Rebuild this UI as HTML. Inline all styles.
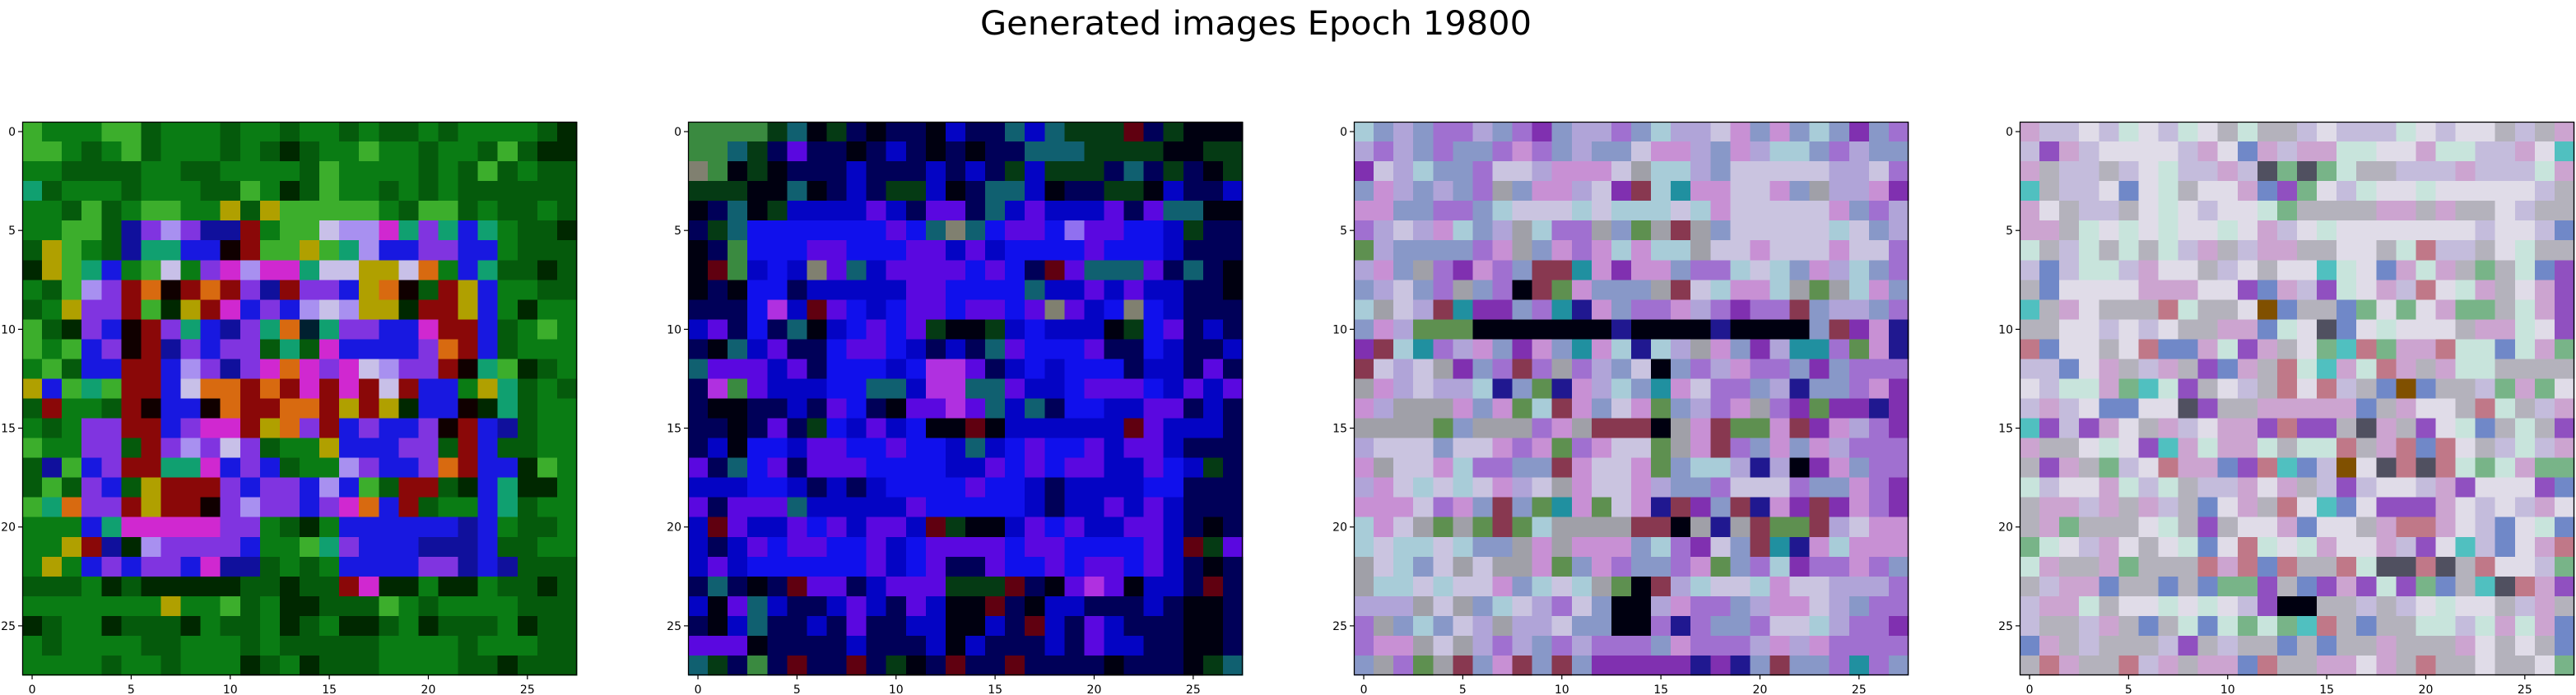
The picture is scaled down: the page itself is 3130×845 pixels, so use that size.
<!DOCTYPE html>
<html><head><meta charset="utf-8"><style>
html,body{margin:0;padding:0;background:#fff;}
svg{display:block;}
</style></head><body>
<svg id="fig" width="3130" height="845" xmlns="http://www.w3.org/2000/svg" font-family="'DejaVu Sans','Liberation Sans',sans-serif">
<rect width="3130" height="845" fill="#fff"/>
<text x="1526" y="42" font-size="40" text-anchor="middle" textLength="670" lengthAdjust="spacingAndGlyphs">Generated images Epoch 19800</text>
</svg>
<script>
const tickValues = [0,5,10,15,20,25];
const gridSize = 28;
const panelNames = ['generated-image-1','generated-image-2','generated-image-3','generated-image-4'];
const palette1 = {L:'#3cae2c',G:'#0a7c14',g:'#055a0c',k:'#002800',C:'#10a070',B:'#1818e0',P:'#8034e0',p:'#a890f0',D:'#10109c',R:'#8a0808',K:'#100000',O:'#d86a10',Y:'#b0a000',M:'#d028d0',W:'#c8c0e8',d:'#002030'};
const palette2 = {G:'#3a8a40',g:'#053a14',T:'#106070',n:'#000058',k:'#000010',b:'#0404c4',B:'#1010ec',P:'#5a08e0',p:'#9070f0',W:'#808070',M:'#b030e0',R:'#600010'};
const palette3 = {c:'#a8ccd8',b:'#8898c8',l:'#b0a4d8',w:'#cac4e0',v:'#a070d0',V:'#8030b0',m:'#c890d4',g:'#a0a0a8',G:'#5e9050',k:'#000010',n:'#201890',t:'#2090a0',r:'#883850'};
const palette4 = {w:'#e0dce8',l:'#c4bcdc',m:'#cca4d0',c:'#c8e4dc',g:'#b4b2bc',d:'#505060',k:'#000010',v:'#9050c0',b:'#7088c8',G:'#78b488',r:'#c07888',t:'#50c0c0',o:'#805000'};
const rows1 = [
"LGGGLLgGGGgGGgGGgGggGgGGGGgk","LLGgGLgGGGgGgkgGGLGGgGGgLgkk","GGggggGGggGGGGgLGGGGgGgLgGgg","CgGGGgGGGggLGkgLGGgGgGgggggg",
"GGgLgGLLGGYgYLLLLLGgLLgGggGg","GGLLgDPpPDDRGLLWppMCPCBCGggk","gYLGgDCCBBKRLLYLCpBBPPBBGggg","kYLCBGLWGPMpMMCWWYYWOGBCggkg",
"GgLpPROKRORPDRPPBYOKgRYBGGgg","gGYPPRLkYRMBPBpWpYYkRRYBGkGG","LgkPBKRPCBDPCOdCPPBBMRRBgGLG","LGLBPKRDPBPPgCgMBBBBPORBgGGG",
"GLgBBRRBpPDPMOMPMWpPPRKCLkgG","YBLCLRRBWOORORMRMRWRBBGYCgGg","gRGGgRKBBKORROORYRYkBBKkCgGG","GgGPPRRBPMMRYOPRBPBBPKRBDgGG",
"LGGPPgRPpPWPgGGYBBBPPgRBggGG","gDLBPRRCCMBPBgGGpPBBPORBBkLG","gLgPBgYRRRPBPPBpBLgRRgkBCkkG","LCOPPRYRRKPpPPBPMOBRgGGBCgGG",
"GGGBCMMMMMPPGgkGBBBBBBDBGggG","GGYRDkpPPPPBGGLCPBBBDDDBggGG","GYGBPBPPBMDDgGgGBBBBPPDBDggg","gggGkgkkkkkggkggRMkkGkkGggkg",
"GGGGGGGYGGLgGkkgggLGgGGGGggg","kgGGkgggkGggGkgGkkgGkgggGkgg","GgGGGGggGGGgGgggggGGGGgGGGgg","GGGGgGGgGGGkgGkgggGGGGggkggg"];
const rows2 = [
"GGGGgTkgnknnkbnnTbTgggRngkkk","GGTgnPnnknbnknknnTTTggggkkgg","WGkgknnnbnnnbnbngbgggnTngnkg","gggkkTknbnggbknTTbknnggkbnnb",
"knTkgbbbbPbnPPnTbPbbbPnPTTkk","ngTBBBBBBBPBTWTBPPBpPPBBbgnn","knGBBBPPBBBPPbPbBBBBPBBBbnnn","kRGbBbWPTbPPPPBPBnRPTTTPnTnk",
"knkBBnbbbbbPPBBBBTbbPbPbbnnk","nnnBMbRPBbBPPBPPBPWPbBWBbnnn","bPnBnTkbBPBPgkkgbBbbbkgBPnbn","nkTbPnnBPPBbnbnTPBBBPnnBbnnb",
"TPPPbPnBBBbBMMPnbBbBBBnbbnPn","nMGPbbbBBTTbMMTTPbbBPPPBbPbP","nkknnbnPBnkPPMPTbTnBBbbPPnbn","nnknPngBbPbBkkRkbbbbbbRPbbbn",
"nbkBBbPPBBPBBbTbBPBBPbPPbnnn","PnTBPnPPPBBBBbbPBPBPPbbPBbgn","bbbBBbnbnbBBBBPBBbnbbbbBBnnn","PnPPPTbbbbbPBBBBBbnbbPbPbnnn",
"bRPbbPBPbPPbRgkkbPBPbbPPbnkn","bnbPBPPBBPbBPPPPBPPBBBBPbRgP","bPbBBBBBBPbBPnnPBBPBPPBPbnkn","nTnknRPPnbPPPgggRnkPMPkbbnRn",
"bkPTbnnbPbnPbkkRnkbbnnnbnkkn","nkbTnnbnPnnbbkkbnRbnPbnnnkkn","PPPknnnnbnnnbkbnnnbnPbbnnkkn","TgnGnRnnRngknRnnRnnnnknnnkgT"];
const rows3 = [
"cblbvvlbvVbllvbcllwmbmbcbVbv","lvlbvbbvmvblbbwmmlbmlccbvlbb","Vwlcbbvwwlmmmwgcclbwwwwwllwv","bmlblbvgbmmlwVrctmmwwmbgllmV",
"mmbbvvbcwwwcwcccwcmwwwwwmbvl","vlwlmcblgcvvgbGgrgbwwwwwcwbl","Glbbbbvmgbmvmcmccgwwmwwwmwwv","lmbgvVmvbrrtmVmmbvvcwcbmlcbv",
"blwbvgbvkrGmbbbgrwcmmcgGgcmb","cgwlrtVVbvtnmbvvmlvVvvrbllbv","bmlGGGkkkkkkknkkkknkkkkbrVmn","VrctvlmbVmbtmcnclgmbVlttvGmn",
"rwlwgVbvrvgvlbwkbvlmvvbVbvvv","gmlwllcnbGnmlcbtmwvvblnbbvmV","mlgggmbmGcrmbwmGblvmgvVGVVnV","ggggGbgggvmgrrrkgmrGGmrVmlvV",
"lwwwbwwmvmGvmwwGgmrvbmbmlvvv","mgwwmcvvbbrmwwmGbcclnlkVmbvv","lmwcwcwmlwgmwwmlbbvwwwvbbmvV","mmmwvmbrbGtmGwmnrVbrnmVrVmvV",
"cmwgGgGrGcggggrrkgngrGGrlwmm","cwccwcbbgmgmmmbcvVwbrtnmcmmm","gwcbwgwggmGbmvbbvmGbvcVvvmvb","gccwcwwmbcwcgGkrlcwwcmwwlllv",
"lllgwgbcwlvwbkklmvvblmmwlbvv","vgbcbwlgllwbbkkvnvbbvwwclvvV","vmmgwglvlbvlvvvbmvvvlmlmvvvv","bgvGgrbmrbrbVVVVVnVnbrbbvtvb"];
const rows4 = [
"mllwlcwlcwgcgglwlllcwlwwglgm","lvmlwwwwlmwbmlmmccwwmccllmwt","mgllglwcllmldGdGcgglllmlllcm","tgllwbwcgwwmbvGwlcwwcwwwwwlg",
"mwgllgwcwlwwcGggggmmgmggwlgg","mmgcwcwcwwcwmlwcwwwwwwwlwwlb","cglcgcgclmglmmggwwgcrllgwcgg","lblcclmwwglwgwwtcwbmcmgGgcbv",
"gbwwwwmmmwwvbmlvcwmlrwcmgwmv","tgmwgggrcggwobggbGwGwmGGgcmv","ggwwlwlwggmmbcwdbwcwwwgmmcwv","rbwwgwrbbmcvmgwGtrGmmrccbcmG",
"llbwmglmgvbmgrctmcrmgmccgggg","wlccmGtcvgwlgrwrlgbobgglGmGw","lmlwbbwwdvggmmmmmbgmwwgrcglm","tvlvmwgmlwmmvrvvgdmgvwcbgcgv",
"mggwcwvtmcmmcgccrgmrbrwglclm","gvmgGlwrmmbvrtblowdrdrcGcmGG","clwwmclcgllmwmglvlwwlmvwwwvb","gmmlmgmlgbwmgrwtbwvvvmwlwlmw",
"gmGgggwcgvgwwmbwwgmrrmwlbwcb","Gcwlmwgwcbwrcwcmwwmlvwtlbwmr","cmggmGgggrmrbrggrcddrdgrwwlG","glmmbggbgbGGvgbvmvcvGbgtdrmv",
"lmmcgwwcwcwlvkkgglglwcwwglmg","lgglmgbgcbcGcGtrgbggcclcmcmb","bmglggglvglggbgbggmgggmwgwgb","grmggrlmgmmbrggmmwmgrggwggwG"];
const panelRows = [rows1, rows2, rows3, rows4];
const panelPalettes = [palette1, palette2, palette3, palette4];

const NS = 'http://www.w3.org/2000/svg';
const svg = document.getElementById('fig');
const lefts = [27, 836, 1645, 2454];
const top0 = 148, W = 674, H = 673;
function mk(tag, attrs, parent){const e=document.createElementNS(NS,tag);for(const k in attrs)e.setAttribute(k,attrs[k]);parent.appendChild(e);return e;}

panelRows.forEach((rows, pi) => {
  const left = lefts[pi];
  const sx = v => left + (v + 0.5) / gridSize * W;
  const sy = v => top0 + (v + 0.5) / gridSize * H;
  const g = mk('g', {}, svg);
  
  
  const pal = panelPalettes[pi];
  rows.forEach((row, r) => {
    for (let c = 0; c < gridSize; c++) {
      const ch = row[Math.min(c, row.length - 1)];
      const x0 = sx(c - 0.5), x1 = sx(c + 0.5), y0 = sy(r - 0.5), y1 = sy(r + 0.5);
      const cell = mk('rect', {x: x0.toFixed(2), y: y0.toFixed(2), width: (x1 - x0 + 0.6).toFixed(2), height: (y1 - y0 + 0.6).toFixed(2), fill: pal[ch] || '#888', 'shape-rendering': 'crispEdges'}, g);
      
      
    }
  });
  const frame = mk('rect', {x: left + 0.5, y: top0 + 0.5, width: W - 1, height: H - 1, fill: 'none', stroke: '#000', 'stroke-width': 1.3}, svg);
  
  
  tickValues.forEach(t => {
    const x = sx(t);
    mk('line', {x1: x, y1: top0 + H, x2: x, y2: top0 + H + 5, stroke: '#000', 'stroke-width': 1.2}, svg);
    const xl = mk('text', {x: x, y: 843, 'font-size': 14, 'text-anchor': 'middle'}, svg);
    xl.textContent = t;
    
    
    const y = sy(t);
    mk('line', {x1: left - 5, y1: y, x2: left, y2: y, stroke: '#000', 'stroke-width': 1.2}, svg);
    const yl = mk('text', {x: left - 8, y: y + 5, 'font-size': 14, 'text-anchor': 'end'}, svg);
    yl.textContent = t;
    
    
  });
});
</script>
</body></html>
